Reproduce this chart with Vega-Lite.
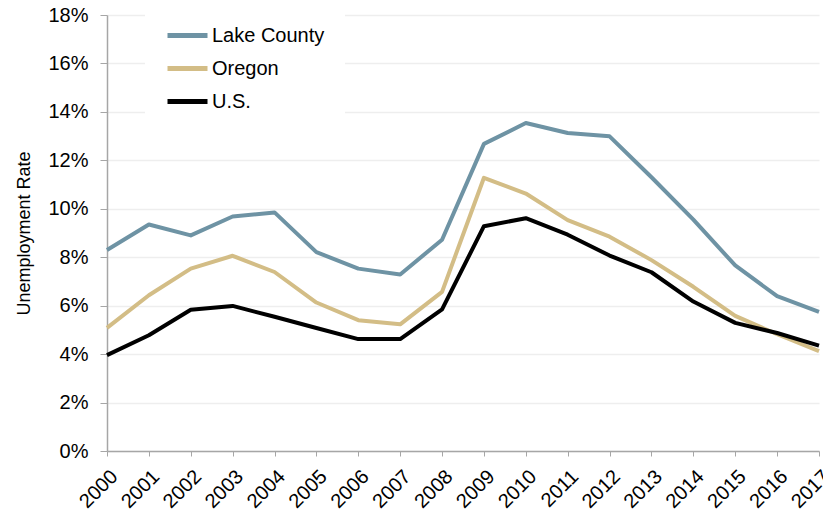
{
  "$schema": "https://vega.github.io/schema/vega-lite/v6.json",
  "autosize": "none",
  "width": 712,
  "height": 436,
  "padding": {"left": 107, "top": 15, "right": 4, "bottom": 67},
  "background": "white",
  "config": {
    "view": {"stroke": null},
    "font": "Liberation Sans"
  },
  "data": {
    "values": [
      {"year": "2000", "series": "Lake County", "rate": 0.083},
      {"year": "2001", "series": "Lake County", "rate": 0.0935},
      {"year": "2002", "series": "Lake County", "rate": 0.089},
      {"year": "2003", "series": "Lake County", "rate": 0.0968},
      {"year": "2004", "series": "Lake County", "rate": 0.0985},
      {"year": "2005", "series": "Lake County", "rate": 0.0821},
      {"year": "2006", "series": "Lake County", "rate": 0.0753},
      {"year": "2007", "series": "Lake County", "rate": 0.0729},
      {"year": "2008", "series": "Lake County", "rate": 0.0872},
      {"year": "2009", "series": "Lake County", "rate": 0.1268},
      {"year": "2010", "series": "Lake County", "rate": 0.1354},
      {"year": "2011", "series": "Lake County", "rate": 0.1313},
      {"year": "2012", "series": "Lake County", "rate": 0.1299},
      {"year": "2013", "series": "Lake County", "rate": 0.113},
      {"year": "2014", "series": "Lake County", "rate": 0.0955},
      {"year": "2015", "series": "Lake County", "rate": 0.0766},
      {"year": "2016", "series": "Lake County", "rate": 0.0639},
      {"year": "2017", "series": "Lake County", "rate": 0.0574},
      {"year": "2000", "series": "Oregon", "rate": 0.0508},
      {"year": "2001", "series": "Oregon", "rate": 0.0643},
      {"year": "2002", "series": "Oregon", "rate": 0.0753},
      {"year": "2003", "series": "Oregon", "rate": 0.0806},
      {"year": "2004", "series": "Oregon", "rate": 0.0739},
      {"year": "2005", "series": "Oregon", "rate": 0.0613},
      {"year": "2006", "series": "Oregon", "rate": 0.054},
      {"year": "2007", "series": "Oregon", "rate": 0.0523},
      {"year": "2008", "series": "Oregon", "rate": 0.0657},
      {"year": "2009", "series": "Oregon", "rate": 0.1128},
      {"year": "2010", "series": "Oregon", "rate": 0.1063},
      {"year": "2011", "series": "Oregon", "rate": 0.0953},
      {"year": "2012", "series": "Oregon", "rate": 0.0885},
      {"year": "2013", "series": "Oregon", "rate": 0.0788},
      {"year": "2014", "series": "Oregon", "rate": 0.0678},
      {"year": "2015", "series": "Oregon", "rate": 0.0558},
      {"year": "2016", "series": "Oregon", "rate": 0.0482},
      {"year": "2017", "series": "Oregon", "rate": 0.0412},
      {"year": "2000", "series": "U.S.", "rate": 0.0396},
      {"year": "2001", "series": "U.S.", "rate": 0.0478},
      {"year": "2002", "series": "U.S.", "rate": 0.0583},
      {"year": "2003", "series": "U.S.", "rate": 0.0599},
      {"year": "2004", "series": "U.S.", "rate": 0.0554},
      {"year": "2005", "series": "U.S.", "rate": 0.0508},
      {"year": "2006", "series": "U.S.", "rate": 0.0462},
      {"year": "2007", "series": "U.S.", "rate": 0.0462},
      {"year": "2008", "series": "U.S.", "rate": 0.0585},
      {"year": "2009", "series": "U.S.", "rate": 0.0928},
      {"year": "2010", "series": "U.S.", "rate": 0.0961},
      {"year": "2011", "series": "U.S.", "rate": 0.0893},
      {"year": "2012", "series": "U.S.", "rate": 0.0807},
      {"year": "2013", "series": "U.S.", "rate": 0.0738},
      {"year": "2014", "series": "U.S.", "rate": 0.0617},
      {"year": "2015", "series": "U.S.", "rate": 0.0529},
      {"year": "2016", "series": "U.S.", "rate": 0.0487},
      {"year": "2017", "series": "U.S.", "rate": 0.0435}
    ]
  },
  "mark": {"type": "line", "strokeWidth": 4, "strokeJoin": "round"},
  "encoding": {
    "x": {
      "field": "year",
      "type": "ordinal",
      "scale": {"type": "point", "padding": 0},
      "axis": {
        "title": null,
        "labelAngle": -45,
        "labelAlign": "right",
        "labelBaseline": "top",
        "labelFontSize": 20,
        "labelColor": "black",
        "labelPadding": 10,
        "domainColor": "#a6a6a6",
        "domainWidth": 1.5,
        "tickColor": "#a6a6a6",
        "tickSize": 5,
        "grid": false
      }
    },
    "y": {
      "field": "rate",
      "type": "quantitative",
      "scale": {"domain": [0, 0.18], "nice": false},
      "axis": {
        "title": "Unemployment Rate",
        "titleFontSize": 18,
        "titleFontWeight": "normal",
        "titleColor": "black",
        "titlePadding": 14,
        "values": [0, 0.02, 0.04, 0.06, 0.08, 0.1, 0.12, 0.14, 0.16, 0.18],
        "format": ".0%",
        "labelFontSize": 20,
        "labelColor": "black",
        "labelPadding": 12,
        "domainColor": "#a6a6a6",
        "domainWidth": 1.5,
        "tickColor": "#a6a6a6",
        "tickSize": 7,
        "grid": true,
        "gridColor": "#eeeeee",
        "gridWidth": 1.5
      }
    },
    "color": {
      "field": "series",
      "type": "nominal",
      "scale": {
        "domain": ["Lake County", "Oregon", "U.S."],
        "range": ["#6e93a4", "#d3bd86", "#000000"]
      },
      "legend": {
        "title": null,
        "orient": "none",
        "legendX": 38,
        "legendY": -22,
        "padding": 20,
        "fillColor": "white",
        "symbolType": "stroke",
        "symbolStrokeWidth": 5,
        "symbolSize": 1600,
        "labelFontSize": 20,
        "labelColor": "black",
        "labelOffset": 2,
        "rowPadding": -6
      }
    }
  }
}
